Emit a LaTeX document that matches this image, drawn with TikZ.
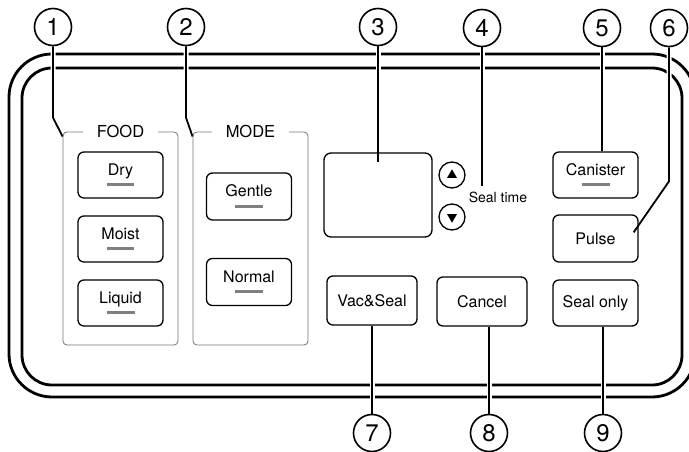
\documentclass[tikz,border=0pt]{standalone}
\usepackage{fontspec}
\setmainfont{TeX Gyre Heros}
\usepackage{xcolor}
\usepackage{tikz}
\usetikzlibrary{shapes.geometric, positioning, backgrounds}
\newcommand{\keybar}{{\color{black!50}\rule{28pt}{3pt}}}

\begin{document}
\begin{tikzpicture}[
    x=1pt, y=-1pt,
    panel edge/.style={line width=2.8pt, rounded corners=#1},
    callout/.style={circle,draw,line width=1.6pt,fill=white,minimum size=37pt,inner sep=0pt,font=\fontsize{24}{24}\selectfont},
    leader/.style={line width=1.8pt,preaction={draw=white,line width=5pt}},
    button/.style={rectangle,draw,line width=1.3pt,rounded corners=6pt,minimum width=85pt,minimum height=46pt,align=center,inner sep=0pt,font=\fontsize{16}{19}\selectfont},
    group box/.style={rectangle,draw=black!55,line width=0.8pt,rounded corners=4pt,minimum width=115pt,minimum height=213pt},
    group label/.style={fill=white,inner xsep=14pt,inner ysep=2pt,font=\fontsize{16.5}{19}\selectfont},
    arrow key/.style={circle,draw,line width=1.3pt,minimum size=26pt,inner sep=0pt},
    tri/.style={regular polygon,regular polygon sides=3,fill=black,minimum size=11.5pt,inner sep=0pt}
]
\useasboundingbox (0,0) rectangle (689,452);

% Food group
\node[group box] (foodgrp) at (120.5,238.5) {};
\node[group label] (foodlbl) at (foodgrp.north) {FOOD};
\node[button] (dry) at (120.5,175) {Dry\\[-8pt]\keybar};
\node[button] (moist) at (120.5,239) {Moist\\[-8pt]\keybar};
\node[button] (liquid) at (120.5,303) {Liquid\\[-8pt]\keybar};

% Mode group
\node[group box] (modegrp) at (250.5,238.5) {};
\node[group label] (modelbl) at (modegrp.north) {MODE};
\node[button, minimum height=47pt] (gentle) at (249,196.5) {Gentle\\[-8pt]\keybar};
\node[button, minimum height=47pt] (normal) at (249,282) {Normal\\[-8pt]\keybar};

% Display and seal time keys
\node[rectangle,draw,line width=1.3pt,rounded corners=7pt,minimum width=108pt,minimum height=84pt] (disp) at (378,195) {};
\node[arrow key] (up) at (452,175) {};
\node[tri] (uptri) at (up) {};
\node[arrow key] (down) at (452,217) {};
\node[tri, shape border rotate=180] (downtri) at (down) {};
\node[font=\fontsize{14}{16}\selectfont] (sealtime) at (498,197) {Seal time};

% Right column
\node[button] (canister) at (595.5,175) {Canister\\[-8pt]\keybar};
\node[button, minimum height=47pt] (pulse) at (595.5,238.5) {Pulse};
\node[button] (sealonly) at (595.5,303) {Seal only};

% Bottom row
\node[button, minimum width=90pt, minimum height=49pt] (vacseal) at (372,300.5) {Vac\&Seal};
\node[button, minimum width=90pt, minimum height=49pt] (cancel) at (482,301.5) {Cancel};

% Callouts
\node[callout] (c1) at (53,27) {1};
\node[callout] (c2) at (186,27) {2};
\node[callout] (c3) at (378,27) {3};
\node[callout] (c4) at (482,28) {4};
\node[callout] (c5) at (602,28) {5};
\node[callout] (c6) at (669,28) {6};
\node[callout] (c7) at (372,433) {7};
\node[callout] (c8) at (489,433) {8};
\node[callout] (c9) at (603,433) {9};

\coordinate (bend1) at ([yshift=14pt]foodgrp.north west);
\coordinate (bend2) at ([yshift=14pt]modegrp.north west);
\coordinate (bend6) at ([yshift=33pt]pulse.north east);

\begin{scope}[on background layer]
% Panel outline
\draw[panel edge=43pt] (9,54) rectangle (695,397);
\draw[panel edge=30pt] (22,68) rectangle (682,385);

% Leader lines
\draw[leader] (c1) -- (bend1 -| c1) -- ([yshift=-5pt]foodgrp.north west);
\draw[leader] (c2) -- (bend2 -| c2) -- ([yshift=-5pt]modegrp.north west);
\draw[leader] (c3) -- ([yshift=-10pt]disp.north);
\draw[leader] (c4) -- ([yshift=2pt]c4 |- sealtime.north);
\draw[leader] (c5) -- (c5 |- canister.north);
\draw[leader] (c6) -- (bend6 -| c6) -- ([xshift=-5pt,yshift=-18pt]pulse.north east);
\draw[leader] (c7) -- (c7 |- vacseal.south);
\draw[leader] (c8) -- (c8 |- cancel.south);
\draw[leader] (c9) -- (c9 |- sealonly.south);
\end{scope}

\end{tikzpicture}
\end{document}
